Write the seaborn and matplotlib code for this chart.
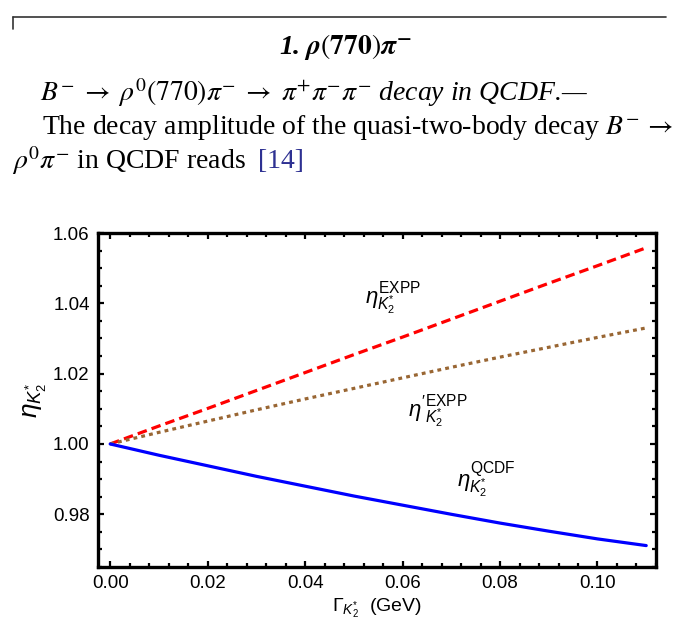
import matplotlib
matplotlib.use("Agg")
import matplotlib.pyplot as plt
import seaborn as sns
import pandas as pd
from matplotlib.lines import Line2D

# width of K2*(1430) in GeV
gamma = [0.00, 0.01, 0.02, 0.03, 0.04, 0.05, 0.06, 0.07, 0.08, 0.09, 0.10, 0.11]
eta_qcdf = [1.0000, 0.9968, 0.9938, 0.9908, 0.9880, 0.9852, 0.9826, 0.9800, 0.9775, 0.9752, 0.9730, 0.9711]
eta_expp = [1.0000, 1.0051, 1.0101, 1.0152, 1.0203, 1.0254, 1.0304, 1.0355, 1.0406, 1.0457, 1.0507, 1.0558]
eta_expp_prime = [1.0000, 1.0033, 1.0065, 1.0097, 1.0128, 1.0158, 1.0188, 1.0218, 1.0247, 1.0275, 1.0303, 1.0330]

sns.set_style("white")
plt.rcParams["font.family"] = ["Liberation Sans", "DejaVu Sans"]
plt.rcParams["mathtext.fontset"] = "custom"
plt.rcParams["mathtext.rm"] = "Liberation Sans"
plt.rcParams["mathtext.it"] = "Liberation Sans:italic"
plt.rcParams["mathtext.bf"] = "Liberation Sans:bold"
plt.rcParams["text.color"] = "black"
plt.rcParams["axes.labelcolor"] = "black"

df = pd.DataFrame({"gamma": gamma, "qcdf": eta_qcdf, "expp": eta_expp, "expp2": eta_expp_prime})

fig = plt.figure(figsize=(6.94, 6.24), dpi=100)
ax = fig.add_axes([0.1412, 0.0913, 0.8040, 0.5353])

sns.lineplot(data=df, x="gamma", y="expp", ax=ax, color="#ff0000", lw=2.3,
             linestyle=(0, (3, 1.6)))
sns.lineplot(data=df, x="gamma", y="expp2", ax=ax, color="#996633", lw=2.3,
             linestyle=(0, (1.2, 1.3)))
sns.lineplot(data=df, x="gamma", y="qcdf", ax=ax, color="#0000ff", lw=2.3)

ax.set_xlim(-0.0025, 0.112)
ax.set_ylim(0.9666, 1.06)
ax.set_xticks([0.0, 0.02, 0.04, 0.06, 0.08, 0.10])
ax.set_xticks([i * 0.004 for i in range(29)], minor=True)
ax.set_yticks([0.98, 1.00, 1.02, 1.04, 1.06])
ax.set_yticks([0.965 + i * 0.005 for i in range(20)], minor=True)
ax.set_xticklabels(["0.00", "0.02", "0.04", "0.06", "0.08", "0.10"])
ax.set_yticklabels(["0.98", "1.00", "1.02", "1.04", "1.06"])
ax.tick_params(which="both", direction="in", top=True, right=True, bottom=True, left=True,
               labelsize=13.5, width=1.6, color="black", labelcolor="black")
ax.tick_params(which="major", length=4.5, pad=6)
ax.tick_params(which="minor", length=3)
for s in ax.spines.values():
    s.set_linewidth(2.4)
    s.set_color("black")

ax.set_xlabel(r"$\Gamma_{K_2^{*}}$  (GeV)", fontsize=14, labelpad=3)
ax.set_ylabel(r"$\eta_{K_2^{*}}$", fontsize=19, labelpad=3)

ax.text(0.0523, 1.0414, r"$\eta^{\rm EXPP}_{K_2^{*}}$", fontsize=16, va="center", ha="left")
ax.text(0.0612, 1.0092, r"$\eta'^{\rm EXPP}_{K_2^{*}}$", fontsize=16, va="center", ha="left")
ax.text(0.0712, 0.9897, r"$\eta^{\rm QCDF}_{K_2^{*}}$", fontsize=16, va="center", ha="left")

# page text above the figure
fig.add_artist(Line2D([13 / 694, 666 / 694], [1 - 17 / 624, 1 - 17 / 624], color="#333333", lw=1.2))
fig.add_artist(Line2D([13 / 694, 13 / 694], [1 - 17 / 624, 1 - 29 / 624], color="#333333", lw=1.2))

serif = ["Liberation Serif", "DejaVu Serif"]
fig.text(345 / 694, 1 - 47 / 624, r"1. $\boldsymbol{\rho}(\mathbf{770})\boldsymbol{\pi}^{\mathbf{-}}$",
         fontsize=20, family=serif, weight="bold", style="italic", math_fontfamily="stix",
         ha="center", va="center")
fig.text(40 / 694, 1 - 93 / 624,
         r"$B^{-}\;\rightarrow\;\rho^{0}(770)\pi^{-}\;\rightarrow\;\pi^{+}\pi^{-}\pi^{-}$ decay in QCDF.—",
         fontsize=20, family=serif, style="italic", math_fontfamily="stix", ha="left", va="center")
fig.text(42 / 694, 1 - 128 / 624,
         r"The decay amplitude of the quasi-two-body decay $B^{-}\,\rightarrow$",
         fontsize=20, family=serif, math_fontfamily="stix", ha="left", va="center")
fig.text(12 / 694, 1 - 161 / 624, r"$\rho^{0}\pi^{-}$ in QCDF reads",
         fontsize=20, family=serif, math_fontfamily="stix", ha="left", va="center")
fig.text(258 / 694, 1 - 161 / 624, "[14]", fontsize=20, family=serif, color="#2e3192",
         ha="left", va="center")

fig.savefig("out.png", dpi=100)
